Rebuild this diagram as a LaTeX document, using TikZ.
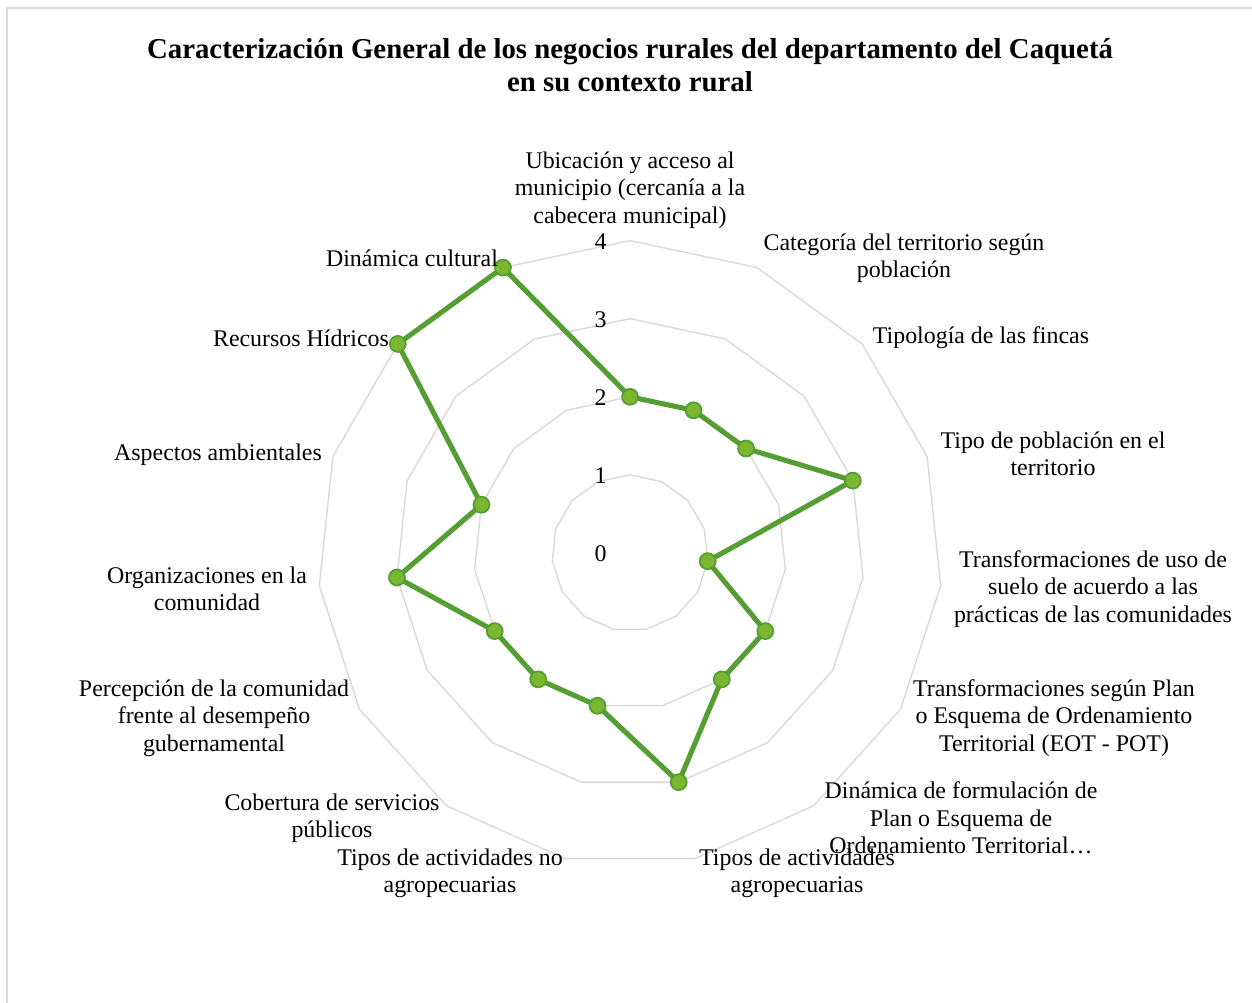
\documentclass[tikz,border=0pt]{standalone}
\usepackage{fontspec}
\setmainfont{Liberation Serif}
\usepackage{xcolor}
\usetikzlibrary{calc, positioning}

\definecolor{gridgray}{RGB}{217,217,217}
\definecolor{serieline}{RGB}{84,158,52}
\definecolor{seriefill}{RGB}{122,182,48}

\begin{document}
\begin{tikzpicture}[x=0.02cm, y=0.02cm,
    lab/.style={align=center, font=\fontsize{13.6}{15.6}\selectfont, inner sep=0pt},
    ticklab/.style={font=\fontsize{13.6}{15.6}\selectfont, inner sep=0pt, anchor=east},
    dot/.style={circle, fill=seriefill, draw=serieline, line width=1pt, minimum size=0.32cm, inner sep=0pt}]
    \useasboundingbox (0,0) rectangle (1252,1002);
    \draw[gridgray, line width=1.2pt] (7,-20) |- (1272,994);
    \node[font=\bfseries\fontsize{16.4}{18.8}\selectfont, align=center] (title) at (630,937)
        {Caracterización General de los negocios rurales del departamento del Caquetá\\en su contexto rural};
    % rejilla y serie
    \begin{scope}[shift={(630,449)}]
        \coordinate (c) at (0,0);
        \foreach \r in {1,...,4}
            \draw[gridgray, line width=0.8pt] (90:\r*78.1) \foreach \k in {1,...,14} {-- ({90-24*\k}:\r*78.1)} -- cycle;
        \foreach \v [count=\k] in {2,2,2,3,1,2,2,3,2,2,2,3,2,4,4}
            \coordinate (p\k) at ({90-24*(\k-1)}:\v*78.1);
        \foreach \r in {0,...,4}
            \node[ticklab] (t\r) at (-23,\r*78.1-1) {\r};
    \end{scope}
    \draw[serieline, line width=2.9pt, line join=round]
        (p1) -- (p2) -- (p3) -- (p4) -- (p5) -- (p6) -- (p7) -- (p8)
        -- (p9) -- (p10) -- (p11) -- (p12) -- (p13) -- (p14) -- (p15) -- cycle;
    \foreach \k in {1,...,15}
        \node[dot] (d\k) at (p\k) {};
    % etiquetas de los ejes
    \node[lab] (lab1) at (630,812) {Ubicación y acceso al\\municipio (cercanía a la\\cabecera municipal)};
    \node[lab] (lab2) at (904,744) {Categoría del territorio según\\población};
    \node[lab] (lab3) at (981,664) {Tipología de las fincas};
    \node[lab] (lab4) at (1053,548) {Tipo de población en el\\territorio};
    \node[lab] (lab5) at (1093,413) {Transformaciones de uso de\\suelo de acuerdo a las\\prácticas de las comunidades};
    \node[lab] (lab6) at (1054,284) {Transformaciones según Plan\\o Esquema de Ordenamiento\\Territorial (EOT - POT)};
    \node[lab] (lab7) at (961,184) {Dinámica de formulación de\\Plan o Esquema de\\Ordenamiento Territorial…};
    \node[lab] (lab8) at (797,129) {Tipos de actividades\\agropecuarias};
    \node[lab] (lab9) at (450,129) {Tipos de actividades no\\agropecuarias};
    \node[lab] (lab10) at (332,184) {Cobertura de servicios\\públicos};
    \node[lab] (lab11) at (214,284) {Percepción de la comunidad\\frente al desempeño\\gubernamental};
    \node[lab] (lab12) at (207,413) {Organizaciones en la\\comunidad};
    \node[lab] (lab13) at (218,547) {Aspectos ambientales};
    \node[lab] (lab14) at (301,664) {Recursos Hídricos};
    \node[lab] (lab15) at (412,744) {Dinámica cultural};
\end{tikzpicture}
\end{document}
